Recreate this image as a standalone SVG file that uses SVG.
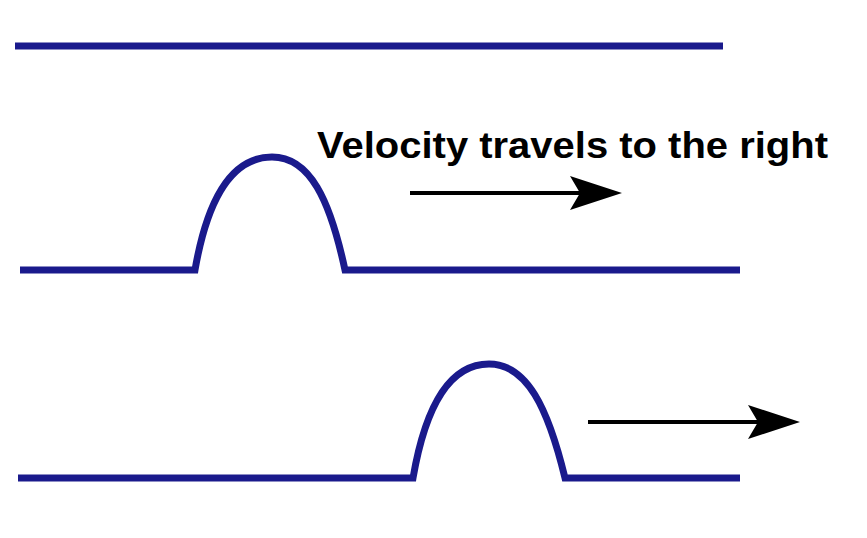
<svg xmlns="http://www.w3.org/2000/svg" width="867" height="538" viewBox="0 0 867 538">
<style>
.wave{fill:none;stroke:#1a1a8c;stroke-width:7;stroke-linejoin:miter}
.arr{stroke:#000;stroke-width:4;fill:none}
.hd{fill:#000}
.lbl{font-family:"Liberation Sans",Arial,sans-serif;font-weight:bold;font-size:37px;fill:#000}
</style>
<rect width="867" height="538" fill="#fff"/>
<g id="string-top"><path class="wave" d="M15,46 H723"/></g>
<g id="string-middle"><path class="wave" d="M20,270 H195 C208,195 233,157 272,157 C310,157 330,200 345,270 H740"/></g>
<g id="string-bottom"><path class="wave" d="M18,478 H413 C426,403 451,364 489,364 C527,364 548,408 565,478 H740"/></g>
<g id="label"><text class="lbl" x="317" y="158" textLength="511" lengthAdjust="spacingAndGlyphs">Velocity travels to the right</text></g>
<g id="connectors">
<path class="arr" d="M410,193 H580"/>
<path class="hd" d="M622,193 L570,176 L580,193 L570,210 Z"/>
<path class="arr" d="M588,422 H758"/>
<path class="hd" d="M800,422 L748,405 L758,422 L748,439 Z"/>
</g>
</svg>
